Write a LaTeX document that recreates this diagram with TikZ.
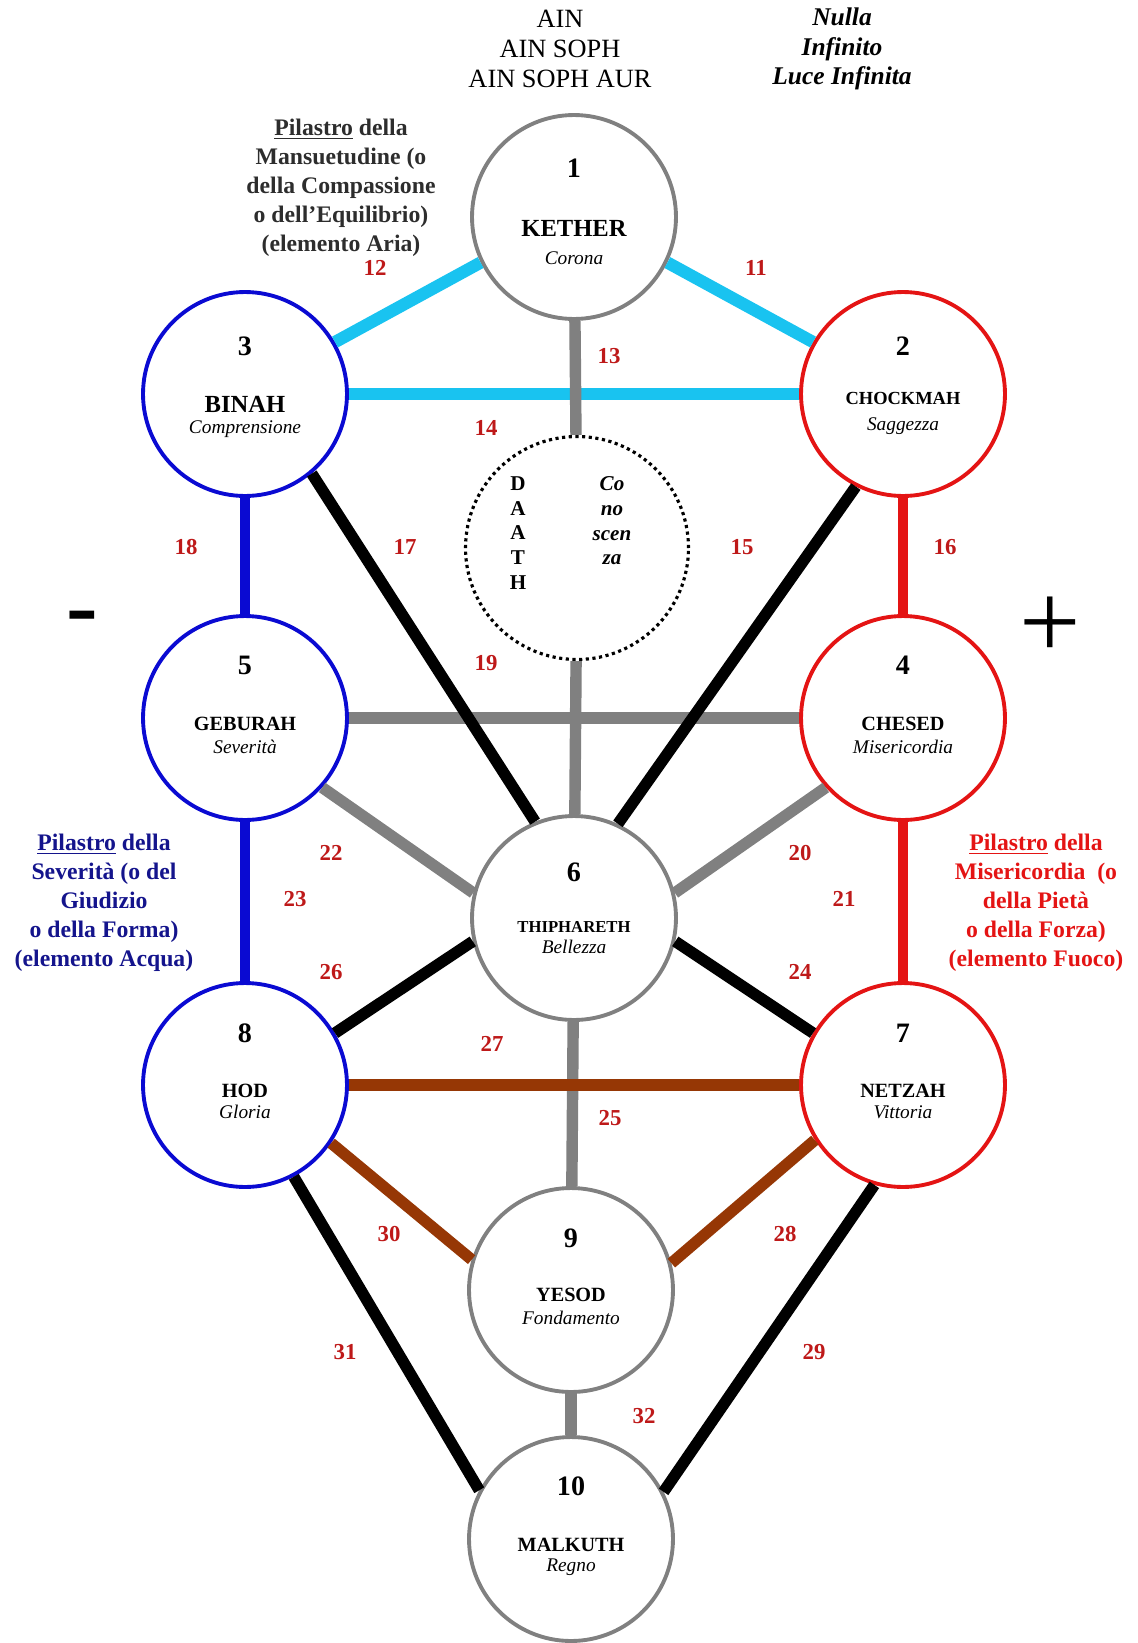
\documentclass[tikz,border=0pt]{standalone}
\usepackage{fontspec}
\setmainfont{Liberation Serif}
\definecolor{ciano}{RGB}{25,195,240}
\definecolor{grigio}{RGB}{128,128,128}
\definecolor{blu}{RGB}{10,10,210}
\definecolor{rosso}{RGB}{228,20,20}
\definecolor{marrone}{RGB}{150,55,5}
\definecolor{numrosso}{RGB}{190,25,25}
\definecolor{blutesto}{RGB}{20,20,140}
\definecolor{grigiotesto}{RGB}{45,45,45}

\begin{document}
\begin{tikzpicture}[x=0.02cm, y=-0.02cm,
    sef/.style={circle, draw, fill=white, line width=2.2pt, minimum size=4.08cm, inner sep=0pt},
    num/.style={font=\fontsize{16}{16}\selectfont\bfseries},
    nome/.style={font=\fontsize{11.5}{12}\selectfont\bfseries},
    sott/.style={font=\fontsize{11}{12}\selectfont\itshape},
    pnum/.style={text=numrosso, font=\fontsize{13}{13}\selectfont\bfseries},
    blocco/.style={align=center, font=\fontsize{13.5}{16.5}\selectfont\bfseries}]
      \useasboundingbox (0,0) rectangle (1137,1643);

      % 円を置く
      \node[sef, draw=grigio] (kether) at (574, 217) {};
      \node[sef, draw=rosso] (chockmah) at (903, 394) {};
      \node[sef, draw=blu] (binah) at (245, 394) {};
      \node[circle, draw, line width=1.8pt, dash pattern=on 1.8pt off 2pt, minimum size=4.46cm] (daath) at (577, 548) {};
      \node[sef, draw=rosso] (chesed) at (903, 718) {};
      \node[sef, draw=blu] (geburah) at (245, 718) {};
      \node[sef, draw=grigio] (tiphareth) at (574, 918) {};
      \node[sef, draw=rosso] (netzah) at (903, 1085) {};
      \node[sef, draw=blu] (hod) at (245, 1085) {};
      \node[sef, draw=grigio] (yesod) at (571, 1290) {};
      \node[sef, draw=grigio] (malkuth) at (571, 1539) {};

      % 線を引く
      \draw[ciano, line width=7pt] (kether.334) -- (chockmah.150);
      \draw[ciano, line width=7pt] (kether.206) -- (binah.30);
      \draw[ciano, line width=7pt] (binah) -- (chockmah);
      \draw[grigio, line width=6.5pt] (kether) -- (daath);
      \draw[grigio, line width=6.5pt] (daath) -- (tiphareth);
      \draw[grigio, line width=6.5pt] (geburah) -- (chesed);
      \draw[grigio, line width=6.5pt] (chesed.222) -- (tiphareth.14);
      \draw[grigio, line width=6.5pt] (geburah.318) -- (tiphareth.166);
      \draw[grigio, line width=6.5pt] (tiphareth) -- (yesod);
      \draw[grigio, line width=6.5pt] (yesod) -- (malkuth);
      \draw[rosso, line width=5.7pt] (chockmah) -- (chesed);
      \draw[rosso, line width=5.7pt] (chesed) -- (netzah);
      \draw[blu, line width=5.7pt] (binah) -- (geburah);
      \draw[blu, line width=5.7pt] (geburah) -- (hod);
      \draw[line width=6.5pt] (chockmah.243) -- (tiphareth.65);
      \draw[line width=6.5pt] (binah.310) -- (tiphareth.112);
      \draw[line width=6.5pt] (tiphareth.347) -- (netzah.150);
      \draw[line width=6.5pt] (tiphareth.193) -- (hod.30);
      \draw[line width=6.5pt] (netzah.254) -- (malkuth.27);
      \draw[line width=6.5pt] (hod.298) -- (malkuth.152);
      \draw[marrone, line width=6.5pt] (hod) -- (netzah);
      \draw[marrone, line width=6.5pt] (netzah.212) -- (yesod.15);
      \draw[marrone, line width=6.5pt] (hod.326) -- (yesod.163);

      % 値を入れる
      \node[num] (n1) at (574, 168) {1};
      \node[nome, font=\fontsize{14}{14}\selectfont\bfseries] (t1) at (574, 228) {KETHER};
      \node[sott] (s1) at (574, 258) {Corona};
      \node[num] (n2) at (903, 346) {2};
      \node[nome, font=\fontsize{10.5}{12}\selectfont\bfseries] (t2) at (903, 398) {CHOCKMAH};
      \node[sott] (s2) at (903, 426) {Saggezza};
      \node[num] (n3) at (245, 346) {3};
      \node[nome, font=\fontsize{14}{14}\selectfont\bfseries] (t3) at (245, 404) {BINAH};
      \node[sott] (s3) at (245, 429) {Comprensione};
      \node[num] (n4) at (903, 665) {4};
      \node[nome] (t4) at (903, 724) {CHESED};
      \node[sott] (s4) at (903, 747) {Misericordia};
      \node[num] (n5) at (245, 665) {5};
      \node[nome] (t5) at (245, 724) {GEBURAH};
      \node[sott] (s5) at (245, 747) {Severità};
      \node[num] (n6) at (574, 872) {6};
      \node[nome, font=\fontsize{9.5}{10}\selectfont\bfseries] (t6) at (574, 927) {THIPHARETH};
      \node[sott] (s6) at (574, 947) {Bellezza};
      \node[num] (n7) at (903, 1033) {7};
      \node[nome] (t7) at (903, 1091) {NETZAH};
      \node[sott] (s7) at (903, 1112) {Vittoria};
      \node[num] (n8) at (245, 1033) {8};
      \node[nome] (t8) at (245, 1091) {HOD};
      \node[sott] (s8) at (245, 1112) {Gloria};
      \node[num] (n9) at (571, 1238) {9};
      \node[nome] (t9) at (571, 1295) {YESOD};
      \node[sott] (s9) at (571, 1318) {Fondamento};
      \node[num] (n10) at (571, 1486) {10};
      \node[nome] (t10) at (571, 1545) {MALKUTH};
      \node[sott] (s10) at (571, 1567) {Regno};
      \node[align=center, font=\fontsize{12}{14}\selectfont\bfseries] (daathnome) at (518, 533) {D\\A\\A\\T\\H};
      \node[align=center, font=\fontsize{12}{14}\selectfont\bfseries\itshape] (daathsott) at (612, 521) {Co\\no\\scen\\za};

      % 道の番号
      \node[pnum] (p11) at (756, 268) {11};
      \node[pnum] (p12) at (375, 268) {12};
      \node[pnum] (p13) at (609, 356) {13};
      \node[pnum] (p14) at (486, 428) {14};
      \node[pnum] (p15) at (742, 547) {15};
      \node[pnum] (p16) at (945, 547) {16};
      \node[pnum] (p17) at (405, 547) {17};
      \node[pnum] (p18) at (186, 547) {18};
      \node[pnum] (p19) at (486, 663) {19};
      \node[pnum] (p20) at (800, 853) {20};
      \node[pnum] (p21) at (844, 899) {21};
      \node[pnum] (p22) at (331, 853) {22};
      \node[pnum] (p23) at (295, 899) {23};
      \node[pnum] (p24) at (800, 972) {24};
      \node[pnum] (p25) at (610, 1118) {25};
      \node[pnum] (p26) at (331, 972) {26};
      \node[pnum] (p27) at (492, 1044) {27};
      \node[pnum] (p28) at (785, 1234) {28};
      \node[pnum] (p29) at (814, 1352) {29};
      \node[pnum] (p30) at (389, 1234) {30};
      \node[pnum] (p31) at (345, 1352) {31};
      \node[pnum] (p32) at (644, 1416) {32};

      % 文字
      \node[align=center, font=\fontsize{15}{17}\selectfont] (ain) at (560, 49) {AIN\\AIN SOPH\\AIN SOPH AUR};
      \node[align=center, font=\fontsize{14.5}{17}\selectfont\bfseries\itshape] (nulla) at (842, 49) {Nulla\\Infinito\\Luce Infinita};
      \node[blocco, grigiotesto] (mansuetudine) at (341, 188) {\underline{Pilastro} della\\Mansuetudine (o\\della Compassione\\o dell’Equilibrio)\\(elemento Aria)};
      \node[blocco, blutesto] (severita) at (104, 903) {\underline{Pilastro} della\\Severità (o del\\Giudizio\\o della Forma)\\(elemento Acqua)};
      \node[blocco, rosso] (misericordia) at (1036, 903) {\underline{Pilastro} della\\Misericordia~ (o\\della Pietà\\o della Forza)\\(elemento Fuoco)};
      \node[font=\fontsize{54}{54}\selectfont\bfseries] (meno) at (82, 624) {-};
      \node[font=\fontsize{62}{62}\selectfont] (piu) at (1050, 628) {+};
    \end{tikzpicture}
\end{document}
